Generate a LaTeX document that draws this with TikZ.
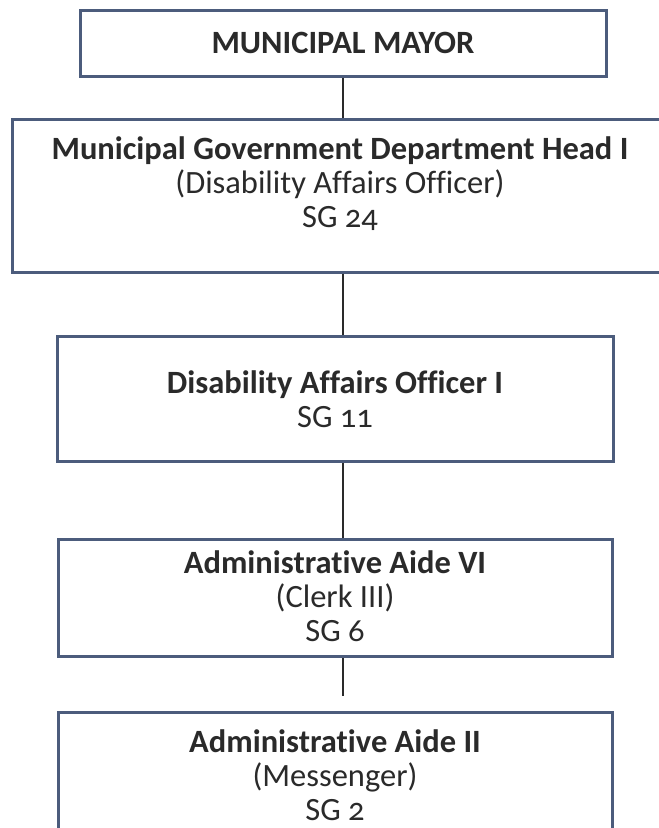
\documentclass[tikz,border=0pt]{standalone}
\usepackage{fontspec}
\setmainfont[Numbers=OldStyle,Ligatures=NoCommon]{Carlito}
\usetikzlibrary{calc}
\definecolor{boxline}{HTML}{4C5C7C}
\definecolor{ink}{HTML}{2A2A2A}
\begin{document}
\begin{tikzpicture}[x=1pt,y=-1pt,
    post/.style={draw=boxline,line width=3pt,rectangle,align=center,text=ink,
      font=\fontsize{32.5}{34}\selectfont,inner sep=0pt},
    link/.style={draw=ink,line width=1.7pt}]
    \clip(0,0)rectangle(659,828);
    \coordinate(spine)at(343,0);
    \node[post,minimum width=526,minimum height=66](mayor)at(343,43){\textbf{MUNICIPAL MAYOR}};
    \node[post,minimum width=656,minimum height=153,text depth=26pt](head)at(340,195.5)
      {\textbf{Municipal Government Department Head I}\\(Disability Affairs Officer)\\SG 24};
    \node[post,minimum width=556,minimum height=125](officer)at(335,399)
      {\textbf{Disability Affairs Officer I}\\SG 11};
    \node[post,minimum width=554,minimum height=117,text depth=4pt](aidevi)at(335,598)
      {\textbf{Administrative Aide VI}\\(Clerk III)\\SG 6};
    \node[post,minimum width=554,minimum height=126](aideii)at(335,775)
      {\textbf{Administrative Aide II}\\(Messenger)\\SG 2};
    \coordinate(tail)at(343,696);
    \draw[link](spine|-mayor.south)--(spine|-head.north);
    \draw[link](spine|-head.south)--(spine|-officer.north);
    \draw[link](spine|-officer.south)--(spine|-aidevi.north);
    \draw[link](spine|-aidevi.south)--(tail);
  \end{tikzpicture}
\end{document}
